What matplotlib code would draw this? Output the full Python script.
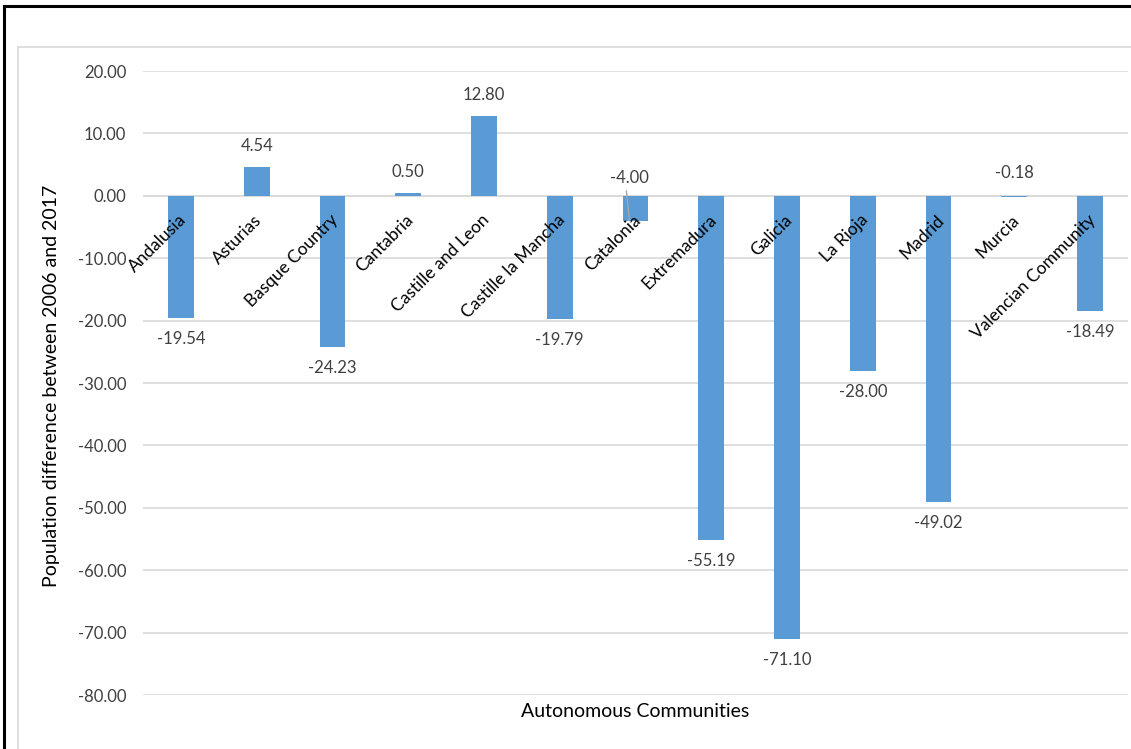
import matplotlib.pyplot as plt
from matplotlib.lines import Line2D
import numpy as np

plt.rcParams['font.family'] = ['Lato', 'DejaVu Sans']

communities = ["Andalusia", "Asturias", "Basque Country", "Cantabria", "Castille and Leon",
               "Castille la Mancha", "Catalonia", "Extremadura", "Galicia", "La Rioja",
               "Madrid", "Murcia", "Valencian Community"]
differences = [-19.54, 4.54, -24.23, 0.50, 12.80, -19.79, -4.00, -55.19, -71.10,
               -28.00, -49.02, -0.18, -18.49]
y_ticks = [20, 10, 0, -10, -20, -30, -40, -50, -60, -70, -80]

W, H = 1131, 749
fig = plt.figure(figsize=(W / 100, H / 100), dpi=100)
ax = fig.add_axes([143 / W, 1 - 695 / H, (1128 - 143) / W, (695 - 71) / H])

x = np.arange(len(communities))
ax.bar(x, differences, width=0.34, color="#5B9BD5", zorder=3)

ax.set_xlim(-0.5, len(communities) - 0.5)
ax.set_ylim(-80, 20)
ax.set_yticks(y_ticks)
ax.set_yticklabels([f"{v:.2f}" for v in y_ticks], fontsize=12, color="#404040")
ax.tick_params(axis="y", length=0, pad=12)
ax.set_xticks([])
ax.grid(axis="y", color="#D9D9D9", linewidth=1.2, zorder=0)
for s in ax.spines.values():
    s.set_visible(False)
ax.axhline(0, color="#D9D9D9", linewidth=1.2, zorder=1)

# category labels next to the zero line
for i, name in enumerate(communities):
    ax.annotate(name, (i, 0), xytext=(-3, -16), textcoords="offset pixels",
                rotation=45, rotation_mode="anchor", ha="right", va="top",
                fontsize=12.5, color="#000000", zorder=4)

# data labels
for i, v in enumerate(differences):
    name = communities[i]
    if v >= 0:
        off = (0, 21)
    elif name == "Catalonia":
        off = (-6, 43)
    elif name == "Murcia":
        off = (0, 24)
    else:
        off = (0, -21)
    ax.annotate(f"{v:.2f}", (i, v), xytext=off, textcoords="offset pixels",
                ha="center", va="center", fontsize=12, color="#404040")

# leader line for the Catalonia label
cat = communities.index("Catalonia")
ax.annotate("", (cat - 0.08, differences[cat]), xytext=(cat - 0.12, 0.8),
            arrowprops=dict(arrowstyle="-", color="#A6A6A6", lw=1,
                            shrinkA=0, shrinkB=0), zorder=5)

ax.set_ylabel("Population difference between 2006 and 2017", fontsize=14,
              color="#000000")
ax.yaxis.set_label_coords((60 - 143) / 985, (695 - 386) / 624)
ax.set_xlabel("Autonomous Communities", fontsize=14, color="#000000")
ax.xaxis.set_label_coords(0.5, -0.013)

# outer frame and chart area border
fig.add_artist(Line2D([4 / W, 1], [1 - 6 / H, 1 - 6 / H], color="black", linewidth=2.2))
fig.add_artist(Line2D([4 / W, 4 / W], [0, 1 - 6 / H], color="black", linewidth=2.2))
fig.add_artist(Line2D([18 / W, 1], [1 - 47 / H, 1 - 47 / H], color="#D9D9D9", linewidth=1.2))
fig.add_artist(Line2D([18 / W, 18 / W], [0, 1 - 47 / H], color="#D9D9D9", linewidth=1.2))

fig.savefig("out.png", dpi=100)
